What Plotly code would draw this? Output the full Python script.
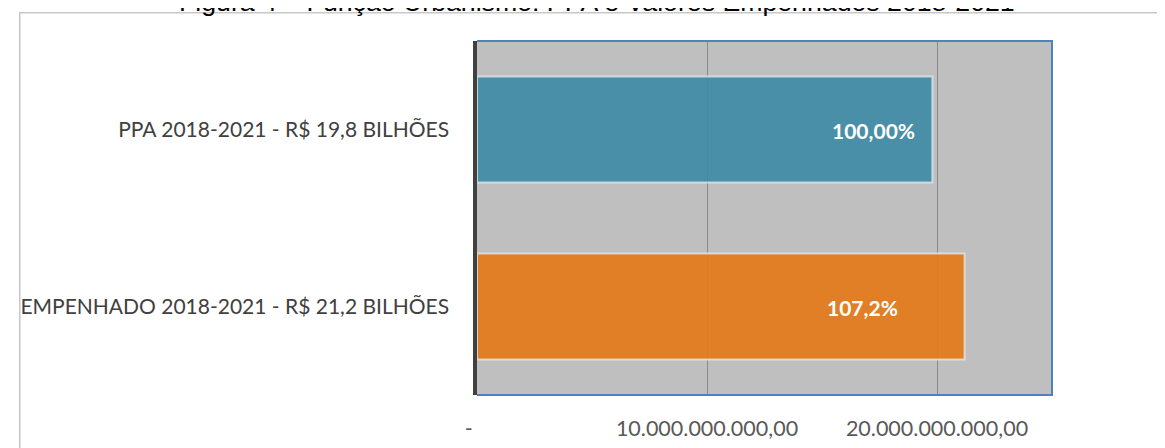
import plotly.graph_objects as go

categories = ["EMPENHADO 2018-2021 - R$ 21,2 BILHÕES", "PPA 2018-2021 - R$ 19,8 BILHÕES"]
values = [21.2e9, 19.8e9]
labels = ["107,2%", "100,00%"]
colors = ["#e47a1a", "#3f8ba6"]
tick_vals = [0, 10e9, 20e9]
tick_text = ["-\u00a0\u00a0\u00a0", "10.000.000.000,00", "20.000.000.000,00"]
title_text = "Figura 4 – Função Urbanismo: PPA e Valores Empenhados 2018-2021"

W, H = 1165, 448
L, R, T, B = 463, 121, 33, 61
pw, ph = W - L - R, H - T - B

def px_x(px):
    # px is a figure-pixel coordinate
    return (px - L) / pw

def px_y(py):
    return (H - B - py) / ph

fig = go.Figure()
fig.add_trace(go.Bar(
    y=categories, x=values, orientation="h",
    marker=dict(color=colors, opacity=0.92,
                line=dict(color="rgba(235,240,242,0.75)", width=2)),
    hoverinfo="skip", showlegend=False,
))

label_shift = [-65, -15]
for cat, v, lab, sh in zip(categories, values, labels, label_shift):
    fig.add_annotation(x=v, y=cat, xref="x", yref="y", text=f"<b>{lab}</b>",
                       showarrow=False, xanchor="right", xshift=sh, yshift=-1,
                       font=dict(family="Lato", size=21, color="white"))

fig.add_annotation(x=px_x(584), y=px_y(-5.5), xref="paper", yref="paper",
                   text=title_text, showarrow=False, xanchor="center", yanchor="middle",
                   font=dict(family="Liberation Sans", size=26.7, color="black"))

# outer light border
fig.add_shape(type="rect", xref="paper", yref="paper",
              x0=px_x(1), x1=px_x(1400), y0=px_y(700), y1=px_y(4.7),
              line=dict(color="#c8c8c8", width=1.5), fillcolor="rgba(0,0,0,0)", layer="above")
# blue plot border (top, right, bottom)
fig.add_shape(type="path", xref="paper", yref="paper",
              path="M 0,1 L 1,1 L 1,0 L 0,0",
              line=dict(color="#4f81bd", width=2), layer="above")

fig.update_layout(
    width=W, height=H,
    margin=dict(l=L, r=R, t=T, b=B),
    paper_bgcolor="white", plot_bgcolor="#bfbfbf",
    bargap=0.4,
    xaxis=dict(range=[0, 25e9], tickvals=tick_vals, ticktext=tick_text,
               showgrid=True, gridcolor="#8a8a8a", gridwidth=1, zeroline=False,
               showline=False, ticks="", ticklabelstandoff=18,
               tickfont=dict(family="Lato", size=21.5, color="#595959")),
    yaxis=dict(categoryorder="array", categoryarray=categories,
               showline=True, linecolor="#404040", linewidth=3.5,
               showgrid=False, zeroline=False, ticks="", ticklabelstandoff=20,
               tickfont=dict(family="Lato", size=21, color="#404040")),
)

fig.write_html("out.html")
